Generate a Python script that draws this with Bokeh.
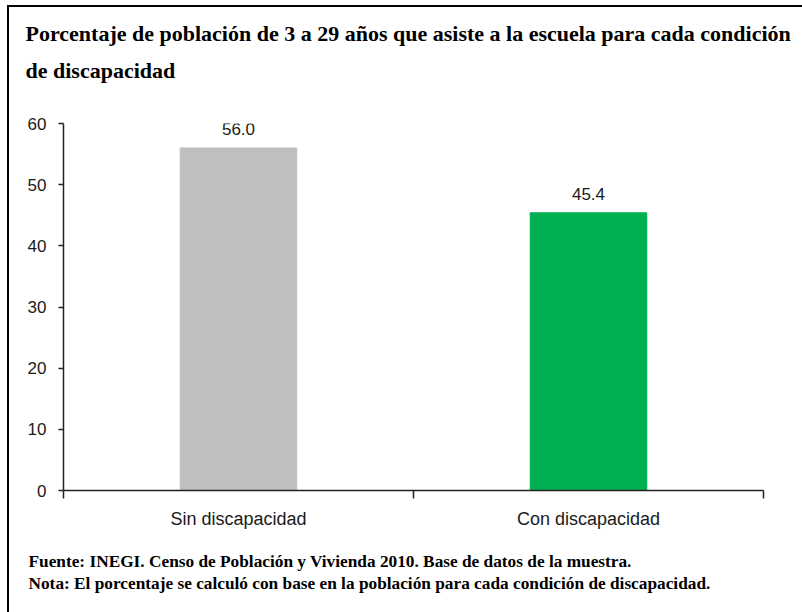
from bokeh.plotting import figure
from bokeh.models import ColumnDataSource, FixedTicker, LabelSet, Title, Range1d
from bokeh.core.properties import value
from bokeh.embed import file_html
from bokeh.resources import INLINE

categories = ["Sin discapacidad", "Con discapacidad"]
values = [56.0, 45.4]
bar_colors = ["#BFBFBF", "#00B050"]
y_ticks = [0, 10, 20, 30, 40, 50, 60]
title_lines = [
    "Porcentaje de población de 3 a 29 años que asiste a la escuela para cada condición",
    "de discapacidad",
]
notes = [
    "Fuente: INEGI. Censo de Población y Vivienda 2010. Base de datos de la muestra.",
    "Nota: El porcentaje se calculó con base en la población para cada condición de discapacidad.",
]

n = len(categories)
x_pos = [i + 0.5 for i in range(n)]
value_labels = [f"{v:.1f}" for v in values]
src = ColumnDataSource(dict(x=x_pos, top=values, color=bar_colors, label=value_labels))

p = figure(width=802, height=612, output_backend="svg", toolbar_location=None,
           x_range=Range1d(0, n), y_range=Range1d(y_ticks[0], y_ticks[-1]),
           min_border_left=63, min_border_right=39, min_border_top=123, min_border_bottom=122)
p.outline_line_color = None
p.grid.grid_line_color = None
p.background_fill_color = "white"
p.border_fill_color = None
p.styles = {"background-color": "white",
            "box-shadow": "inset 7px 5px 0 0 white, inset 9px 7px 0 0 black"}

p.vbar(x="x", top="top", width=0.333, color="color", source=src)

p.add_layout(LabelSet(x="x", y="top", text="label", source=src, text_align="center",
                      text_baseline="bottom", y_offset=13, text_font=value("Liberation Sans"),
                      text_font_size="17px", text_color="#1a1a1a"))

# axes
xa = p.xaxis[0]
xa.ticker = FixedTicker(ticks=x_pos, minor_ticks=list(range(n + 1)))
xa.major_label_overrides = {x: c for x, c in zip(x_pos, categories)}
xa.major_tick_out = 0
xa.major_tick_in = 0
xa.minor_tick_out = 8
xa.minor_tick_in = 0
xa.minor_tick_line_color = "#222222"
xa.minor_tick_line_width = 1.5
xa.axis_line_color = "#222222"
xa.axis_line_width = 1.5
xa.major_label_standoff = 10
xa.major_label_text_font = "Liberation Sans"
xa.major_label_text_font_size = "18px"
xa.major_label_text_color = "#1a1a1a"

ya = p.yaxis[0]
ya.ticker = FixedTicker(ticks=y_ticks)
ya.major_tick_out = 5
ya.major_tick_in = 0
ya.minor_tick_out = 0
ya.minor_tick_in = 0
ya.major_tick_line_color = "#222222"
ya.major_tick_line_width = 1.5
ya.axis_line_color = "#222222"
ya.axis_line_width = 1.5
ya.major_label_standoff = 12
ya.major_label_text_font = "Liberation Sans"
ya.major_label_text_font_size = "17px"
ya.major_label_text_color = "#1a1a1a"

# spacer between title and plot area
p.add_layout(Title(text=" ", text_font_size="1px", standoff=36), "above")
# title (two lines)
p.add_layout(Title(text="\n".join(title_lines), align="left", offset=-38, standoff=4,
                   text_font="Liberation Serif", text_font_style="bold",
                   text_font_size="22px", text_line_height=1.47, text_color="black"), "above")

# notes (two lines, below)
p.add_layout(Title(text="\n".join(notes), align="left", offset=-35, standoff=38,
                   text_font="Liberation Serif", text_font_style="bold",
                   text_font_size="17.3px", text_line_height=1.16, text_color="black"), "below")

open("out.html", "w").write(file_html(p, INLINE))
